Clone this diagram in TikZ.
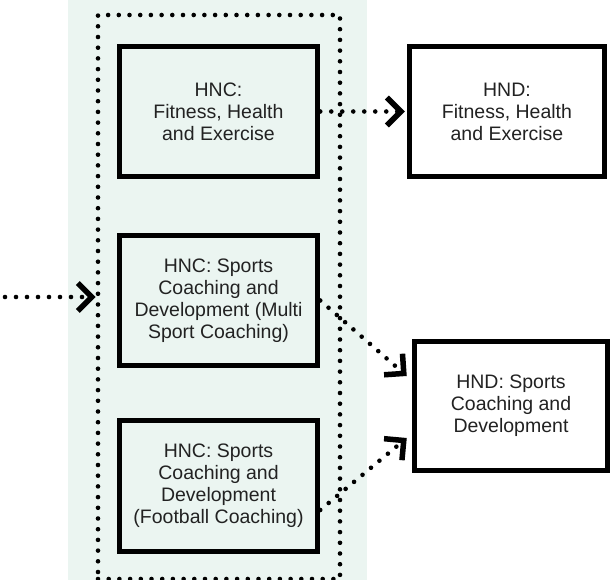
\documentclass[tikz,border=0pt]{standalone}
\usepackage{fontspec}
\setmainfont{Liberation Sans}
\usetikzlibrary{arrows.meta}
\definecolor{hncmint}{RGB}{235,245,241}
\definecolor{boxtext}{RGB}{34,34,34}
\tikzset{
    % HNC boxes sit on the mint panel
    hncbox/.style={
        draw=black, line width=5.5pt,
        minimum width=198pt, minimum height=130pt, inner sep=0pt,
        align=center, text=boxtext,
        font=\fontsize{19.5}{22}\selectfont
    },
    % HND boxes on white
    hndbox/.style={hncbox, fill=white, minimum width=195pt},
    % Dotted panel frame and dotted progression arrows
    dotframe/.style={draw=black, line width=4.6pt, line cap=round,
        dash pattern=on 0pt off 10.7pt, inner sep=0pt},
    dotedge/.style={line width=4.6pt, line cap=round,
        dash pattern=on 0pt off 11pt,
        -{Straight Barb[length=14pt,width=28pt,line width=5.5pt]}},
}
\begin{document}
\begin{tikzpicture}[x=1pt,y=-1pt]
      \useasboundingbox (0,0) rectangle (611,580);
      \fill[hncmint] (68,0) rectangle (367,580);
      \node[dotframe, minimum width=242pt, minimum height=564pt] (panel) at (219,297) {};
      \node[hncbox] (hncfit)   at (218.5,111.5) {HNC:\\Fitness, Health\\and Exercise};
      \node[hncbox] (hncmulti) at (218.5,300.5) {HNC: Sports\\Coaching and\\Development (Multi\\Sport Coaching)};
      \node[hncbox, minimum height=131pt] (hncfoot) at (218.5,486) {HNC: Sports\\Coaching and\\Development\\(Football Coaching)};
      \node[hndbox] (hndfit)   at (507,111.5) {HND:\\Fitness, Health\\and Exercise};
      \node[hndbox, minimum width=193pt, minimum height=129pt] (hndsports) at (511,406) {HND: Sports\\Coaching and\\Development};
      % entry into the HNC panel
      \coordinate (entry) at (5,297);
      \draw[dotedge] (entry) -- (panel.west);
      % HNC to HND routes
      \draw[dotedge] (hncfit.east) -- ([xshift=-2pt]hndfit.west);
      \draw[dotedge] (hncmulti.east) -- ([xshift=-5pt,yshift=30pt]hndsports.west);
      \draw[dotedge] ([yshift=-24pt]hncfoot.east) -- ([xshift=-5pt,yshift=-32pt]hndsports.west);
    \end{tikzpicture}
\end{document}
